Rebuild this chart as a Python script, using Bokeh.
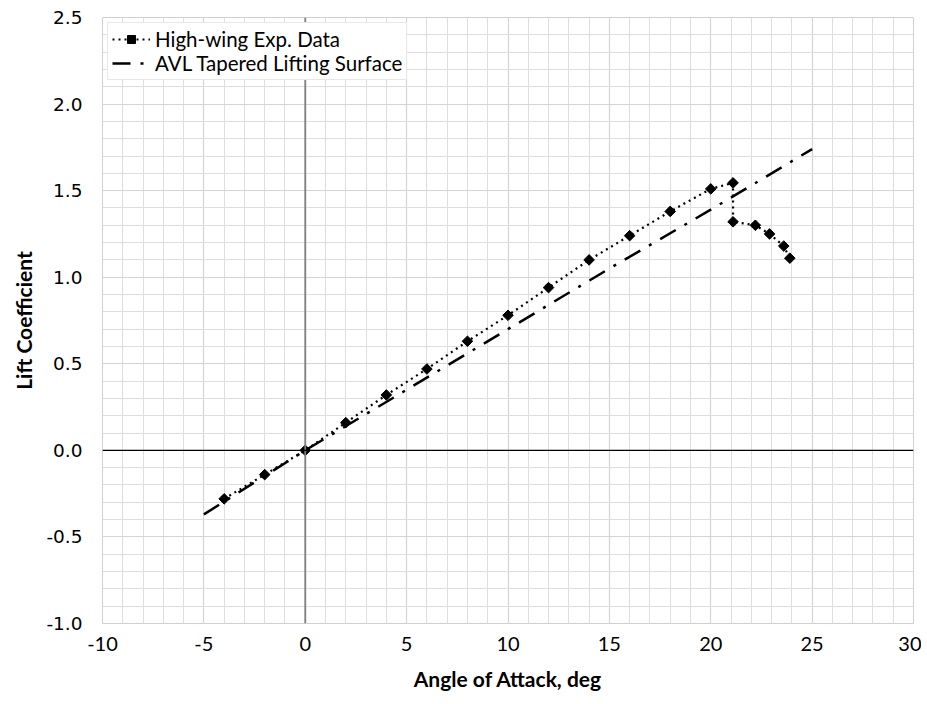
import numpy as np
from bokeh.plotting import figure
from bokeh.models import (SingleIntervalTicker, Span, Legend, LegendItem, Range1d,
                          ColumnDataSource, FixedTicker, CustomJSTickFormatter)
from bokeh.embed import file_html
from bokeh.resources import INLINE

# Data
exp_alpha = [-4, -2, 0, 2, 4, 6, 8, 10, 12, 14, 16, 18, 20, 21.1, 21.1, 22.2, 22.9, 23.6, 23.9]
exp_cl = [-0.28, -0.14, 0.0, 0.16, 0.32, 0.47, 0.63, 0.78, 0.94, 1.10, 1.24, 1.38, 1.51,
          1.545, 1.32, 1.30, 1.25, 1.18, 1.11]

avl_alpha = [-5, 0, 5, 10, 15, 20, 25]
avl_cl = [-0.37, 0.0, 0.35, 0.70, 1.05, 1.39, 1.74]

x_ticks = [-10, -5, 0, 5, 10, 15, 20, 25, 30]
y_ticks = [-1.0, -0.5, 0.0, 0.5, 1.0, 1.5, 2.0, 2.5]

LABEL_FONT = "Lato"

p = figure(output_backend="svg", toolbar_location=None,
           frame_width=811, frame_height=606,
           x_range=Range1d(-10, 30), y_range=Range1d(-1.0, 2.5),
           min_border_left=102, min_border_right=8, min_border_top=17, min_border_bottom=75)
p.background_fill_color = "white"
p.border_fill_color = "white"
p.outline_line_color = "#d0d0d0"
p.outline_line_width = 1

# Axes
p.xaxis.ticker = FixedTicker(ticks=x_ticks)
p.yaxis.ticker = FixedTicker(ticks=y_ticks)
p.xaxis.formatter = CustomJSTickFormatter(code="return tick.toFixed(0);")
p.yaxis.formatter = CustomJSTickFormatter(code="return tick.toFixed(1);")
for ax in (p.xaxis[0], p.yaxis[0]):
    ax.axis_line_color = None
    ax.major_tick_line_color = None
    ax.minor_tick_line_color = None
    ax.major_tick_out = 0
    ax.minor_tick_out = 0
    ax.major_label_text_color = "black"
    ax.axis_label_text_color = "black"
    ax.axis_label_text_font = LABEL_FONT
    ax.axis_label_text_font_style = "bold"
    ax.axis_label_text_font_size = "21px"

p.xaxis.major_label_text_font = LABEL_FONT
p.xaxis.major_label_text_font_size = "20px"
p.xaxis.major_label_standoff = 13
p.xaxis.axis_label = "Angle of Attack, deg"
p.xaxis.axis_label_standoff = 12

p.yaxis.major_label_text_font = "DejaVu Sans"
p.yaxis.major_label_text_font_size = "18.5px"
p.yaxis.major_label_standoff = 20
p.yaxis.axis_label = "Lift Coefficient"
p.yaxis.axis_label_standoff = 7

# Grids
p.xgrid.ticker = SingleIntervalTicker(interval=5, num_minor_ticks=5)
p.ygrid.ticker = SingleIntervalTicker(interval=0.5, num_minor_ticks=5)
for g in (p.xgrid[0], p.ygrid[0]):
    g.grid_line_color = "#d4d4d4"
    g.grid_line_width = 1.2
    g.minor_grid_line_color = "#dedede"
    g.minor_grid_line_width = 1

# Zero lines
p.add_layout(Span(location=0, dimension="height", line_color="#808080", line_width=1.8))
p.add_layout(Span(location=0, dimension="width", line_color="black", line_width=1.2))

exp_src = ColumnDataSource(dict(x=exp_alpha, y=exp_cl))
avl_src = ColumnDataSource(dict(x=avl_alpha, y=avl_cl))

r_avl = p.line("x", "y", source=avl_src, line_color="black", line_width=2.5,
               line_dash="18 10 3 10")
r_exp_line = p.line("x", "y", source=exp_src, line_color="black", line_width=2.2,
                    line_dash="2 4")
r_exp_pts = p.scatter("x", "y", source=exp_src, marker="square", angle=np.pi / 4,
                      size=7.5, fill_color="black", line_color="black")

legend = Legend(items=[
    LegendItem(label="High-wing Exp. Data", renderers=[r_exp_line, r_exp_pts]),
    LegendItem(label="AVL Tapered Lifting Surface", renderers=[r_avl]),
], location="top_left")
legend.label_text_font = LABEL_FONT
legend.label_text_font_size = "20.5px"
legend.label_text_color = "black"
legend.border_line_color = "#d0d0d0"
legend.border_line_width = 1
legend.background_fill_color = "white"
legend.background_fill_alpha = 1.0
legend.glyph_width = 38
legend.label_standoff = 5
legend.spacing = 0
legend.padding = 4
legend.margin = 5
p.add_layout(legend)

open("out.html", "w").write(file_html(p, INLINE))
